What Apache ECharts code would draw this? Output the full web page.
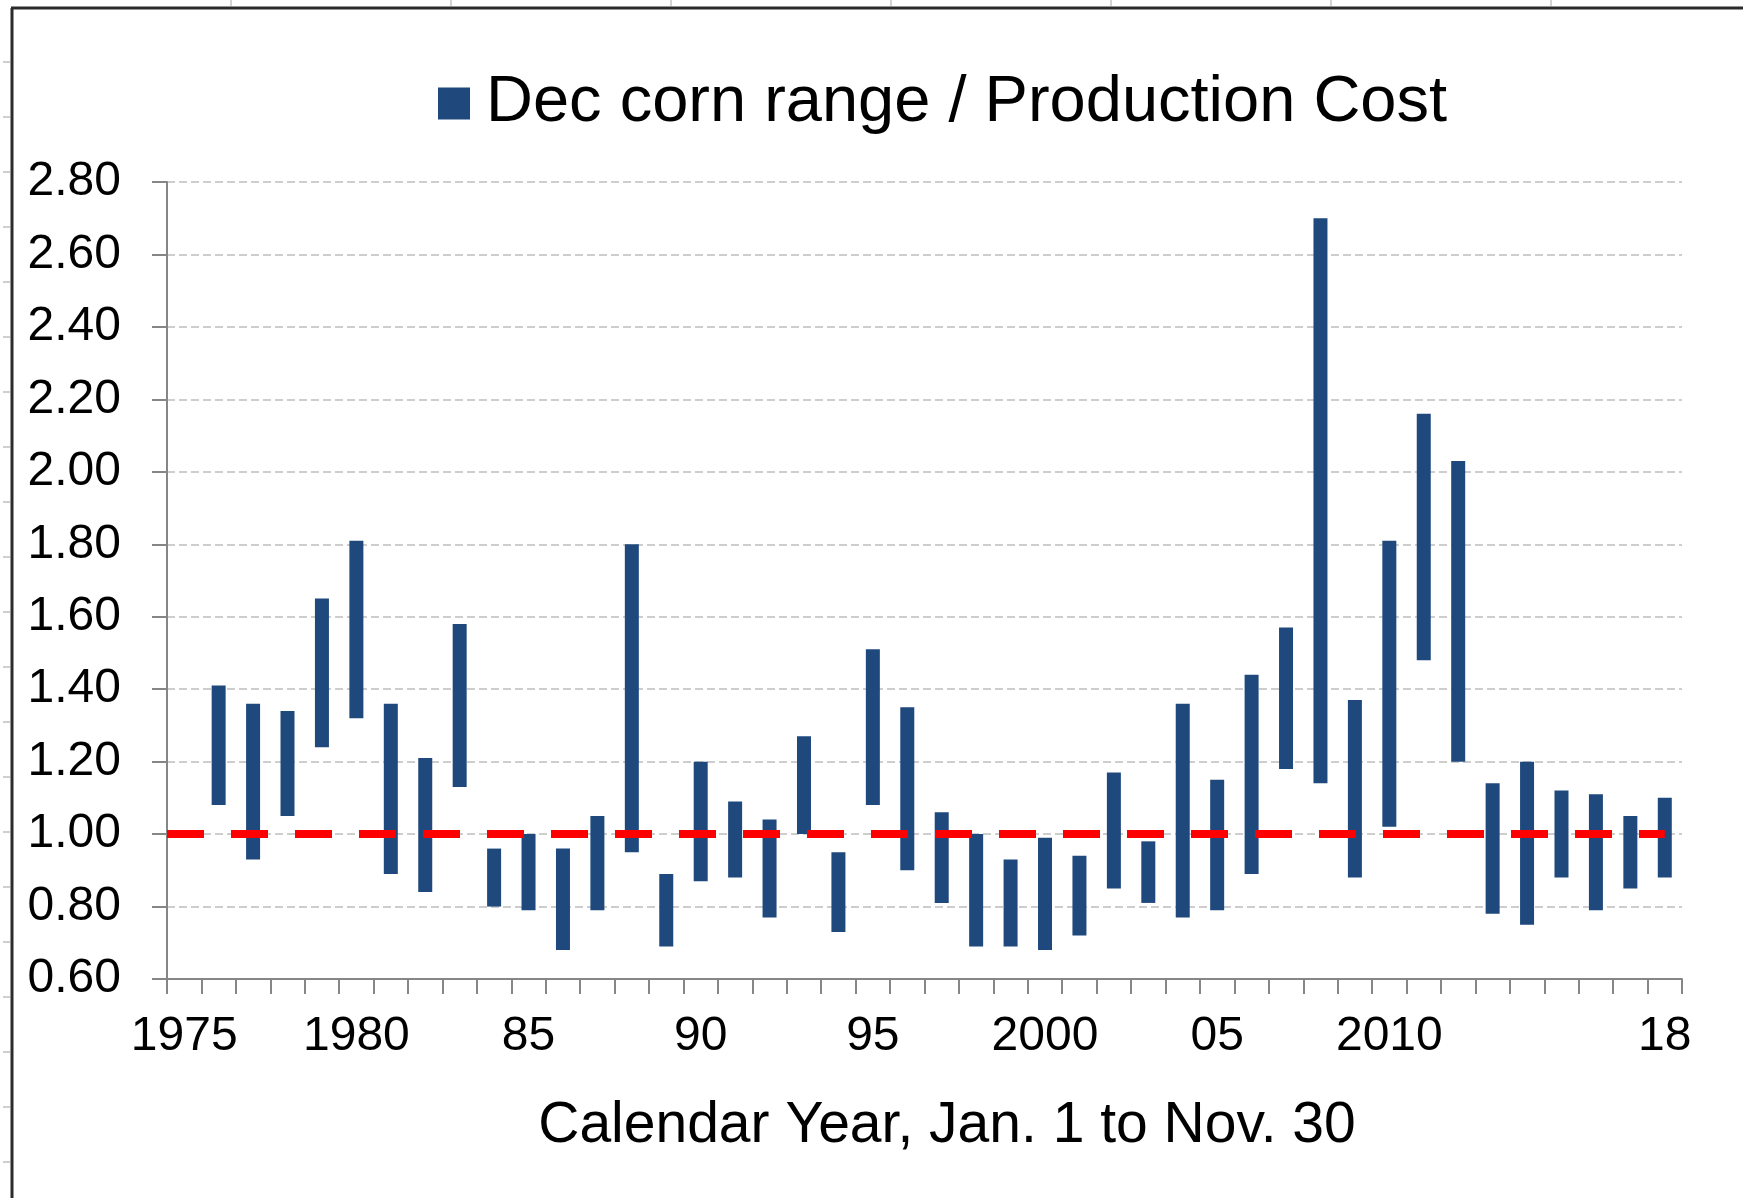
<!DOCTYPE html>
<html>
<head>
<meta charset="utf-8">
<title>Dec corn range / Production Cost</title>
<script src="https://cdn.jsdelivr.net/npm/echarts@6.0.0/dist/echarts.min.js"></script>
<style>
  html, body { margin: 0; padding: 0; background: #fff; }
  #chart { width: 1743px; height: 1198px; }
</style>
</head>
<body>
<div id="chart"></div>
<script>
// years on the category axis (1975 has no bar)
const years = ['1975','1976','1977','1978','1979','1980','1981','1982','1983','1984',
  '1985','1986','1987','1988','1989','1990','1991','1992','1993','1994',
  '1995','1996','1997','1998','1999','2000','2001','2002','2003','2004',
  '2005','2006','2007','2008','2009','2010','2011','2012','2013','2014',
  '2015','2016','2017','2018'];

// low / high of Dec corn futures range divided by production cost
const low = [null, 1.08, 0.93, 1.05, 1.24, 1.32, 0.89, 0.84, 1.13, 0.80,
  0.79, 0.68, 0.79, 0.95, 0.69, 0.87, 0.88, 0.77, 1.00, 0.73,
  1.08, 0.90, 0.81, 0.69, 0.69, 0.68, 0.72, 0.85, 0.81, 0.77,
  0.79, 0.89, 1.18, 1.14, 0.88, 1.02, 1.48, 1.20, 0.78, 0.75,
  0.88, 0.79, 0.85, 0.88];
const high = [null, 1.41, 1.36, 1.34, 1.65, 1.81, 1.36, 1.21, 1.58, 0.96,
  1.00, 0.96, 1.05, 1.80, 0.89, 1.20, 1.09, 1.04, 1.27, 0.95,
  1.51, 1.35, 1.06, 1.00, 0.93, 0.99, 0.94, 1.17, 0.98, 1.36,
  1.15, 1.44, 1.57, 2.70, 1.37, 1.81, 2.16, 2.03, 1.14, 1.20,
  1.12, 1.11, 1.05, 1.10];

// break-even line (price = production cost), from the axis to the last year
const costX = [1974.5, 2018];
const costY = [1.0, 1.0];

// which years get a label and what it reads
const labelYears = ['1975','1980','1985','1990','1995','2000','2005','2010','2018'];
const labelTexts = ['1975','1980','85','90','95','2000','05','2010','18'];

const seriesName = 'Dec corn range / Production Cost';
const font = 'Liberation Sans, Arial, sans-serif';
const axisGray = '#868686';

let range = high.map((h, i) => (h == null ? null : +(h - low[i]).toFixed(3)));

let chart = echarts.init(document.getElementById('chart'));

// spreadsheet cell lines peeking out around the chart frame
let deco = [];
[231, 451, 671, 891, 1111, 1331, 1551].forEach(x => {
  deco.push({ type: 'line', silent: true, shape: { x1: x, y1: 0, x2: x, y2: 6 },
    style: { stroke: '#d4d4d4', lineWidth: 2 } });
});
for (let y = 62; y < 1198; y += 55) {
  deco.push({ type: 'line', silent: true, shape: { x1: 3, y1: y, x2: 10, y2: y },
    style: { stroke: '#cfcfcf', lineWidth: 2 } });
}
deco.push({ type: 'line', silent: true, shape: { x1: 11, y1: 8, x2: 1743, y2: 8 },
  style: { stroke: '#2b2b2b', lineWidth: 3 } });
deco.push({ type: 'line', silent: true, shape: { x1: 12, y1: 8, x2: 12, y2: 1198 },
  style: { stroke: '#2b2b2b', lineWidth: 3 } });
deco.push({ type: 'text', x: 947, y: 1126, silent: true,
  style: { text: 'Calendar Year, Jan. 1 to Nov. 30', font: '57px ' + font,
    fill: '#000', align: 'center', verticalAlign: 'middle',
    textAlign: 'center', textVerticalAlign: 'middle' } });

let option = {
  backgroundColor: '#fff',
  animation: false,
  grid: { left: 167, right: 61, top: 182, bottom: 219, containLabel: false },
  legend: {
    data: [seriesName],
    left: 433,
    top: 66,
    icon: 'rect',
    itemWidth: 32,
    itemHeight: 32,
    textStyle: { fontSize: 65, fontFamily: font, color: '#000', padding: [0, 0, 0, 11] },
    selectedMode: false
  },
  xAxis: [
    {
      type: 'category',
      data: years,
      axisLine: { lineStyle: { color: axisGray, width: 2 } },
      axisTick: { show: true, interval: 0, length: 15, lineStyle: { color: axisGray, width: 2 } },
      axisLabel: {
        interval: (i, v) => labelYears.indexOf(v) >= 0,
        formatter: v => labelTexts[labelYears.indexOf(v)],
        fontSize: 48,
        fontFamily: font,
        color: '#000',
        margin: 34
      },
      splitLine: { show: false }
    },
    {
      type: 'value',
      min: 1974.5,
      max: 2018.5,
      show: false
    }
  ],
  yAxis: {
    type: 'value',
    min: 0.6,
    max: 2.8,
    interval: 0.2,
    axisLine: { show: true, lineStyle: { color: axisGray, width: 2 } },
    axisTick: { show: true, length: 15, lineStyle: { color: axisGray, width: 2 } },
    axisLabel: {
      formatter: v => v.toFixed(2),
      fontSize: 48,
      fontFamily: font,
      color: '#000',
      margin: 46
    },
    splitLine: { show: true, lineStyle: { color: '#bdbdbd', width: 1.5, type: [8, 4] } }
  },
  series: [
    {
      name: 'base',
      type: 'bar',
      stack: 'r',
      data: low,
      barWidth: 14,
      silent: true,
      itemStyle: { color: 'transparent' }
    },
    {
      name: seriesName,
      type: 'bar',
      stack: 'r',
      data: range,
      barWidth: 14,
      itemStyle: { color: '#1f497d' }
    },
    {
      name: 'cost',
      type: 'line',
      xAxisIndex: 1,
      data: costX.map((x, i) => [x, costY[i]]),
      symbol: 'none',
      z: 5,
      lineStyle: { color: '#ff0000', width: 8, type: [37, 27] }
    }
  ],
  graphic: deco
};

chart.setOption(option);
window.addEventListener('resize', () => chart.resize());
</script>
</body>
</html>
